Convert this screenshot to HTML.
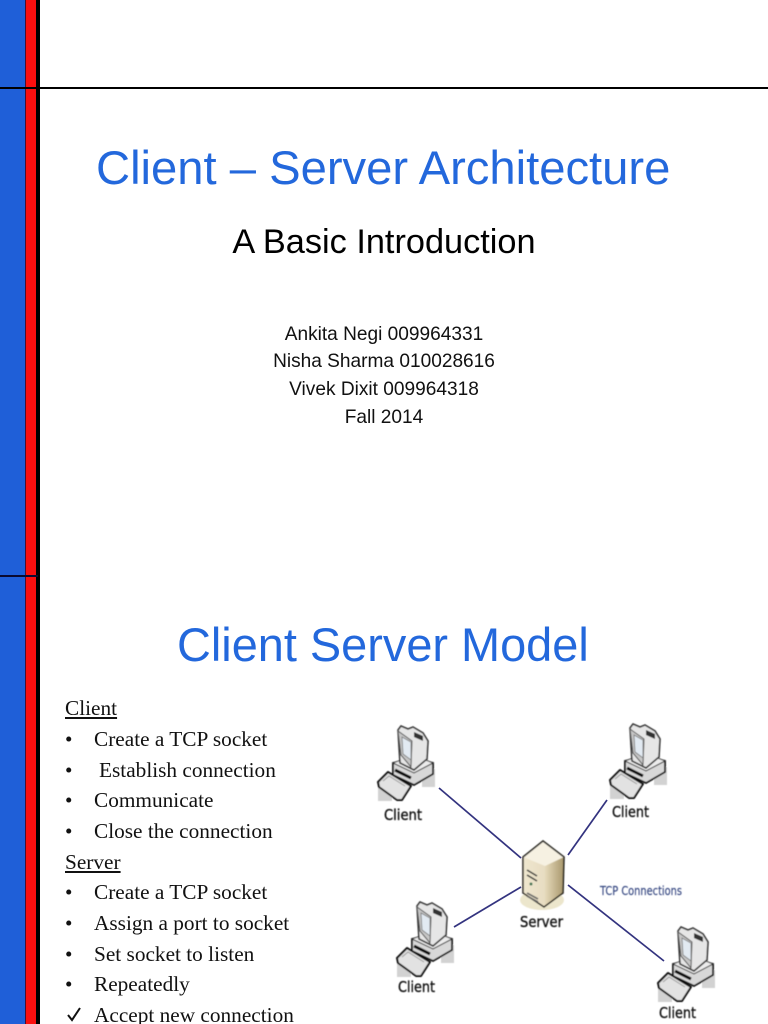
<!DOCTYPE html>
<html>
<head>
<meta charset="utf-8">
<style>
html,body{margin:0;padding:0;background:#fff}
#p{position:relative;width:768px;height:1024px;overflow:hidden;background:#fff}
.a{position:absolute;white-space:pre;font-family:"Liberation Sans",sans-serif;color:#000}
.c{left:0;width:768px;text-align:center}
.s{font-family:"Liberation Serif",serif;font-size:21.3px;line-height:24px;color:#111}
.t{color:#2368dc;font-size:47.2px;line-height:52px}
.n{font-size:19.1px;line-height:22px;color:#111}
</style>
</head>
<body>
<div id="p">
<div class="a" style="left:0;top:0;width:25px;height:1024px;background:#1f5fd8"></div>
<div class="a" style="left:25px;top:0;width:1px;height:1024px;background:#4a1030"></div>
<div class="a" style="left:26px;top:0;width:10px;height:1024px;background:#fb0f0f"></div>
<div class="a" style="left:36px;top:0;width:4px;height:1024px;background:#000"></div>
<div class="a" style="left:0;top:87px;width:768px;height:2px;background:#000"></div>
<div class="a" style="left:0;top:575px;width:38px;height:2px;background:#0a0a30"></div>

<div class="a t" style="left:96px;top:143px">Client – Server Architecture</div>
<div class="a c" style="top:224px;font-size:34.3px;line-height:37px">A Basic Introduction</div>
<div class="a c n" style="top:324px">Ankita Negi 009964331</div>
<div class="a c n" style="top:351px">Nisha Sharma 010028616</div>
<div class="a c n" style="top:379px">Vivek Dixit 009964318</div>
<div class="a c n" style="top:407px">Fall 2014</div>
<div class="a t" style="left:177px;top:619px;font-size:46.9px">Client Server Model</div>

<div class="a s" style="left:65px;top:696px;text-decoration:underline">Client</div>
<div class="a s" style="left:65px;top:727px">•</div><div class="a s" style="left:94px;top:727px">Create a TCP socket</div>
<div class="a s" style="left:65px;top:758px">•</div><div class="a s" style="left:99px;top:758px">Establish connection</div>
<div class="a s" style="left:65px;top:788px">•</div><div class="a s" style="left:94px;top:788px">Communicate</div>
<div class="a s" style="left:65px;top:819px">•</div><div class="a s" style="left:94px;top:819px">Close the connection</div>
<div class="a s" style="left:65px;top:850px;text-decoration:underline">Server</div>
<div class="a s" style="left:65px;top:880px">•</div><div class="a s" style="left:94px;top:880px">Create a TCP socket</div>
<div class="a s" style="left:65px;top:911px">•</div><div class="a s" style="left:94px;top:911px">Assign a port to socket</div>
<div class="a s" style="left:65px;top:942px">•</div><div class="a s" style="left:94px;top:942px">Set socket to listen</div>
<div class="a s" style="left:65px;top:972px">•</div><div class="a s" style="left:94px;top:972px">Repeatedly</div>
<div class="a s" style="left:94px;top:1003px">Accept new connection</div>

<svg class="a" style="left:0;top:0" width="768" height="1024" viewBox="0 0 768 1024">
<defs>
<filter id="b" x="-5%" y="-5%" width="110%" height="110%"><feGaussianBlur stdDeviation="0.5"/></filter>
<linearGradient id="sv" x1="0" x2="1" y1="0" y2="0"><stop offset="0" stop-color="#efe6cf"/><stop offset="1" stop-color="#e0d4b6"/></linearGradient>
<linearGradient id="sr" x1="0" x2="1" y1="0" y2="0"><stop offset="0" stop-color="#e6dabb"/><stop offset="1" stop-color="#a8976c"/></linearGradient>
<g id="pc">
<path d="M0 56H14V76H0ZM44 44H57V62H44Z" fill="#d2d2d2"/>
<path d="M15 38 L15 50 L36 60 L55 49 L55 38 L36 33 Z" fill="#d8d8d8" stroke="#111" stroke-width="1.8"/>
<path d="M15 38 L36 48 L55 38 L36 30 Z" fill="#ececec" stroke="#333" stroke-width="1"/>
<path d="M17 45 L33 53" stroke="#111" stroke-width="3"/>
<path d="M20 5 L23 1 L30 4 L35 2 L45 8 L50 16 L49 34 L36 45 L22 38 Z" fill="#e6e6e6" stroke="#333" stroke-width="1.6"/>
<path d="M20 6 L23 30 L33 42 L34 16 Z" fill="#c6c6c6" stroke="#555" stroke-width="1"/>
<path d="M24 12 L33 17 L33 35 L25 29 Z" fill="#e2eaf2" stroke="#777" stroke-width=".8"/>
<path d="M36 7 L45 11 L45 16 L36 12Z" fill="#333"/>
<path d="M0 57 L10 47 L33 61 L24 75 L19 75 L1 62 Z" fill="#e2e2e2" stroke="#111" stroke-width="2" stroke-linejoin="round"/>
<path d="M5 56 L11 51 L27 61" fill="none" stroke="#999" stroke-width="1"/>
</g>
</defs>

<g stroke="#33337f" stroke-width="1.7" fill="none">
<path d="M439 788 L521 858"/>
<path d="M568 855 L607 800"/>
<path d="M454 927 L521 887"/>
<path d="M568 885 L664 961"/>
</g>

<g filter="url(#b)">
<use href="#pc" x="378" y="725"/>
<use href="#pc" x="610" y="723"/>
<use href="#pc" x="397" y="901"/>
<use href="#pc" x="658" y="926"/>

<ellipse cx="542" cy="900" rx="22" ry="10" fill="#ece6cc"/>
<path d="M523 857 L543 841 L564 857 L563 893 L544 907 L523 893 Z" fill="url(#sv)"/>
<path d="M545 864 L564 857 L563 893 L545 906 Z" fill="url(#sr)"/>
<path d="M523 857 L543 841 L564 857 L545 866 Z" fill="#f6f1e2"/>
<path d="M523 857 L543 841 L564 857 L563 893 L544 907 L523 893 Z" fill="none" stroke="#1e1c14" stroke-width="1.5"/>
<path d="M527 870 L537 876M527 875 L537 881" stroke="#333" stroke-width="1.6"/>
<circle cx="531" cy="884" r="1.5" fill="#475"/>
<path d="M527 893 L538 899M527 896 L538 902" stroke="#666" stroke-width="1.6"/>
</g>

<g font-family="'DejaVu Sans',sans-serif" font-size="15" fill="#111" stroke="#111" stroke-width=".35" filter="url(#b)">
<text x="384" y="820" textLength="38" lengthAdjust="spacingAndGlyphs">Client</text>
<text x="612" y="817" textLength="37" lengthAdjust="spacingAndGlyphs">Client</text>
<text x="398" y="992" textLength="37" lengthAdjust="spacingAndGlyphs">Client</text>
<text x="659" y="1018" textLength="37" lengthAdjust="spacingAndGlyphs">Client</text>
<text x="520" y="927" textLength="43" lengthAdjust="spacingAndGlyphs">Server</text>
<text x="600" y="895" font-size="12" fill="#33447f" stroke="#33447f" stroke-width=".15" textLength="82" lengthAdjust="spacingAndGlyphs">TCP Connections</text>
</g>

<path d="M68 1015 L72 1020 L80 1008" fill="none" stroke="#111" stroke-width="2"/>
</svg>
</div>
</body>
</html>
